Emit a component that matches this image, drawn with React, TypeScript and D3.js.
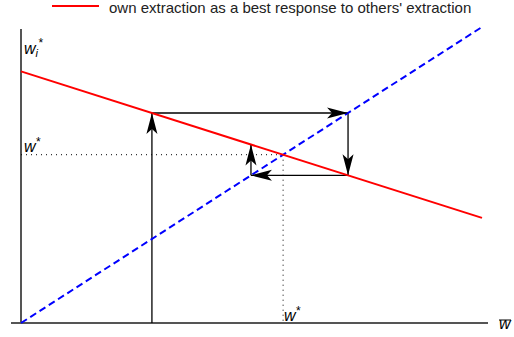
import React from "react";
import * as d3 from "d3";

// ---- data ----
const lineX = [0, 10];
const diagonalY = [0, 10]; // w_i = w (45° line)
const bestResponseY = [8.5, 3.55]; // own extraction as best response
const cobwebStart = 2.84;
const cobwebSteps = 5;
const legendLabel = "own extraction as a best response to others' extraction";

const W = 514;
const H = 337;

export default function App() {
  const x = d3.scaleLinear().domain([0, 10]).range([21, 482]);
  const y = d3.scaleLinear().domain([0, 10]).range([323, 27]);
  const br = d3.scaleLinear().domain(lineX).range(bestResponseY);
  const diag = d3.scaleLinear().domain(lineX).range(diagonalY);

  const line = d3
    .line<[number, number]>()
    .x((d) => x(d[0]))
    .y((d) => y(d[1]));

  const redPts: [number, number][] = lineX.map((v, i) => [v, bestResponseY[i]]);
  const bluePts: [number, number][] = lineX.map((v, i) => [v, diagonalY[i]]);

  const slopeBr = (bestResponseY[1] - bestResponseY[0]) / (lineX[1] - lineX[0]);
  const slopeD = (diagonalY[1] - diagonalY[0]) / (lineX[1] - lineX[0]);
  const wStar = (bestResponseY[0] - diagonalY[0]) / (slopeD - slopeBr);
  const yStar = diag(wStar);

  const inv = d3.scaleLinear().domain(diagonalY).range(lineX);
  const pts: [number, number][] = [[cobwebStart, 0]];
  for (let i = 0; i < cobwebSteps; i++) {
    const last = pts[pts.length - 1];
    if (i % 2 === 0) pts.push([last[0], br(last[0])]);
    else pts.push([inv(last[1]), last[1]]);
  }

  const segs = pts.slice(1).map((p, i) => ({
    x1: x(pts[i][0]),
    y1: y(pts[i][1]),
    x2: x(p[0]),
    y2: y(p[1]),
  }));

  const arrowPath = "M0,0 L-21,-5.5 L-16,0 L-21,5.5 Z";

  const italic = {
    fontFamily: "'Liberation Sans', Arial, sans-serif",
    fontStyle: "italic",
    fontSize: 16,
  } as const;

  return (
    <svg
      width={W}
      height={H}
      style={{ position: "absolute", left: 0, top: 0, background: "#fff" }}
    >
      {/* legend */}
      <line x1={52} x2={99} y1={6} y2={6} stroke="#ff0000" strokeWidth={2} />
      <text
        x={109}
        y={13}
        fontFamily="'Liberation Sans', Arial, sans-serif"
        fontSize={15}
        fill="#222"
      >
        {legendLabel}
      </text>

      {/* axes */}
      <line x1={x(0)} x2={x(0)} y1={29} y2={y(0) + 1} stroke="#555" strokeWidth={2} />
      <line x1={11} x2={488} y1={y(0)} y2={y(0)} stroke="#555" strokeWidth={2} />

      {/* dotted equilibrium lines */}
      <line x1={x(0)} x2={x(wStar)} y1={y(yStar)} y2={y(yStar)} stroke="#000" strokeWidth={1} strokeDasharray="1,4" />
      <line x1={x(wStar)} x2={x(wStar)} y1={y(yStar)} y2={y(0)} stroke="#000" strokeWidth={1} strokeDasharray="1,4" />

      {/* cobweb */}
      {segs.map((s, i) => (
        <line key={i} x1={s.x1} y1={s.y1} x2={s.x2} y2={s.y2} stroke="#000" strokeWidth={1.3} />
      ))}

      {/* lines */}
      <path d={line(bluePts) || ""} fill="none" stroke="#0000ff" strokeWidth={2} strokeDasharray="7,4" />
      <path d={line(redPts) || ""} fill="none" stroke="#ff0000" strokeWidth={2} />

      {/* arrowheads */}
      {segs.map((s, i) => {
        const ang = (Math.atan2(s.y2 - s.y1, s.x2 - s.x1) * 180) / Math.PI;
        return (
          <path key={"a" + i} d={arrowPath} fill="#000" transform={`translate(${s.x2},${s.y2}) rotate(${ang})`} />
        );
      })}

      {/* labels */}
      <text x={24} y={54} {...italic}>
        w
        <tspan fontSize={11} dy={3}>i</tspan>
        <tspan fontSize={12} dy={-10}>*</tspan>
      </text>
      <text x={24} y={152} {...italic}>
        w<tspan fontSize={12} dy={-6}>*</tspan>
      </text>
      <text x={284} y={321} {...italic}>
        w<tspan fontSize={12} dy={-6}>*</tspan>
      </text>
      <text x={499} y={329} {...italic}>
        w
      </text>
      <line x1={499} x2={511} y1={320} y2={320} stroke="#000" strokeWidth={1} />
    </svg>
  );
}
